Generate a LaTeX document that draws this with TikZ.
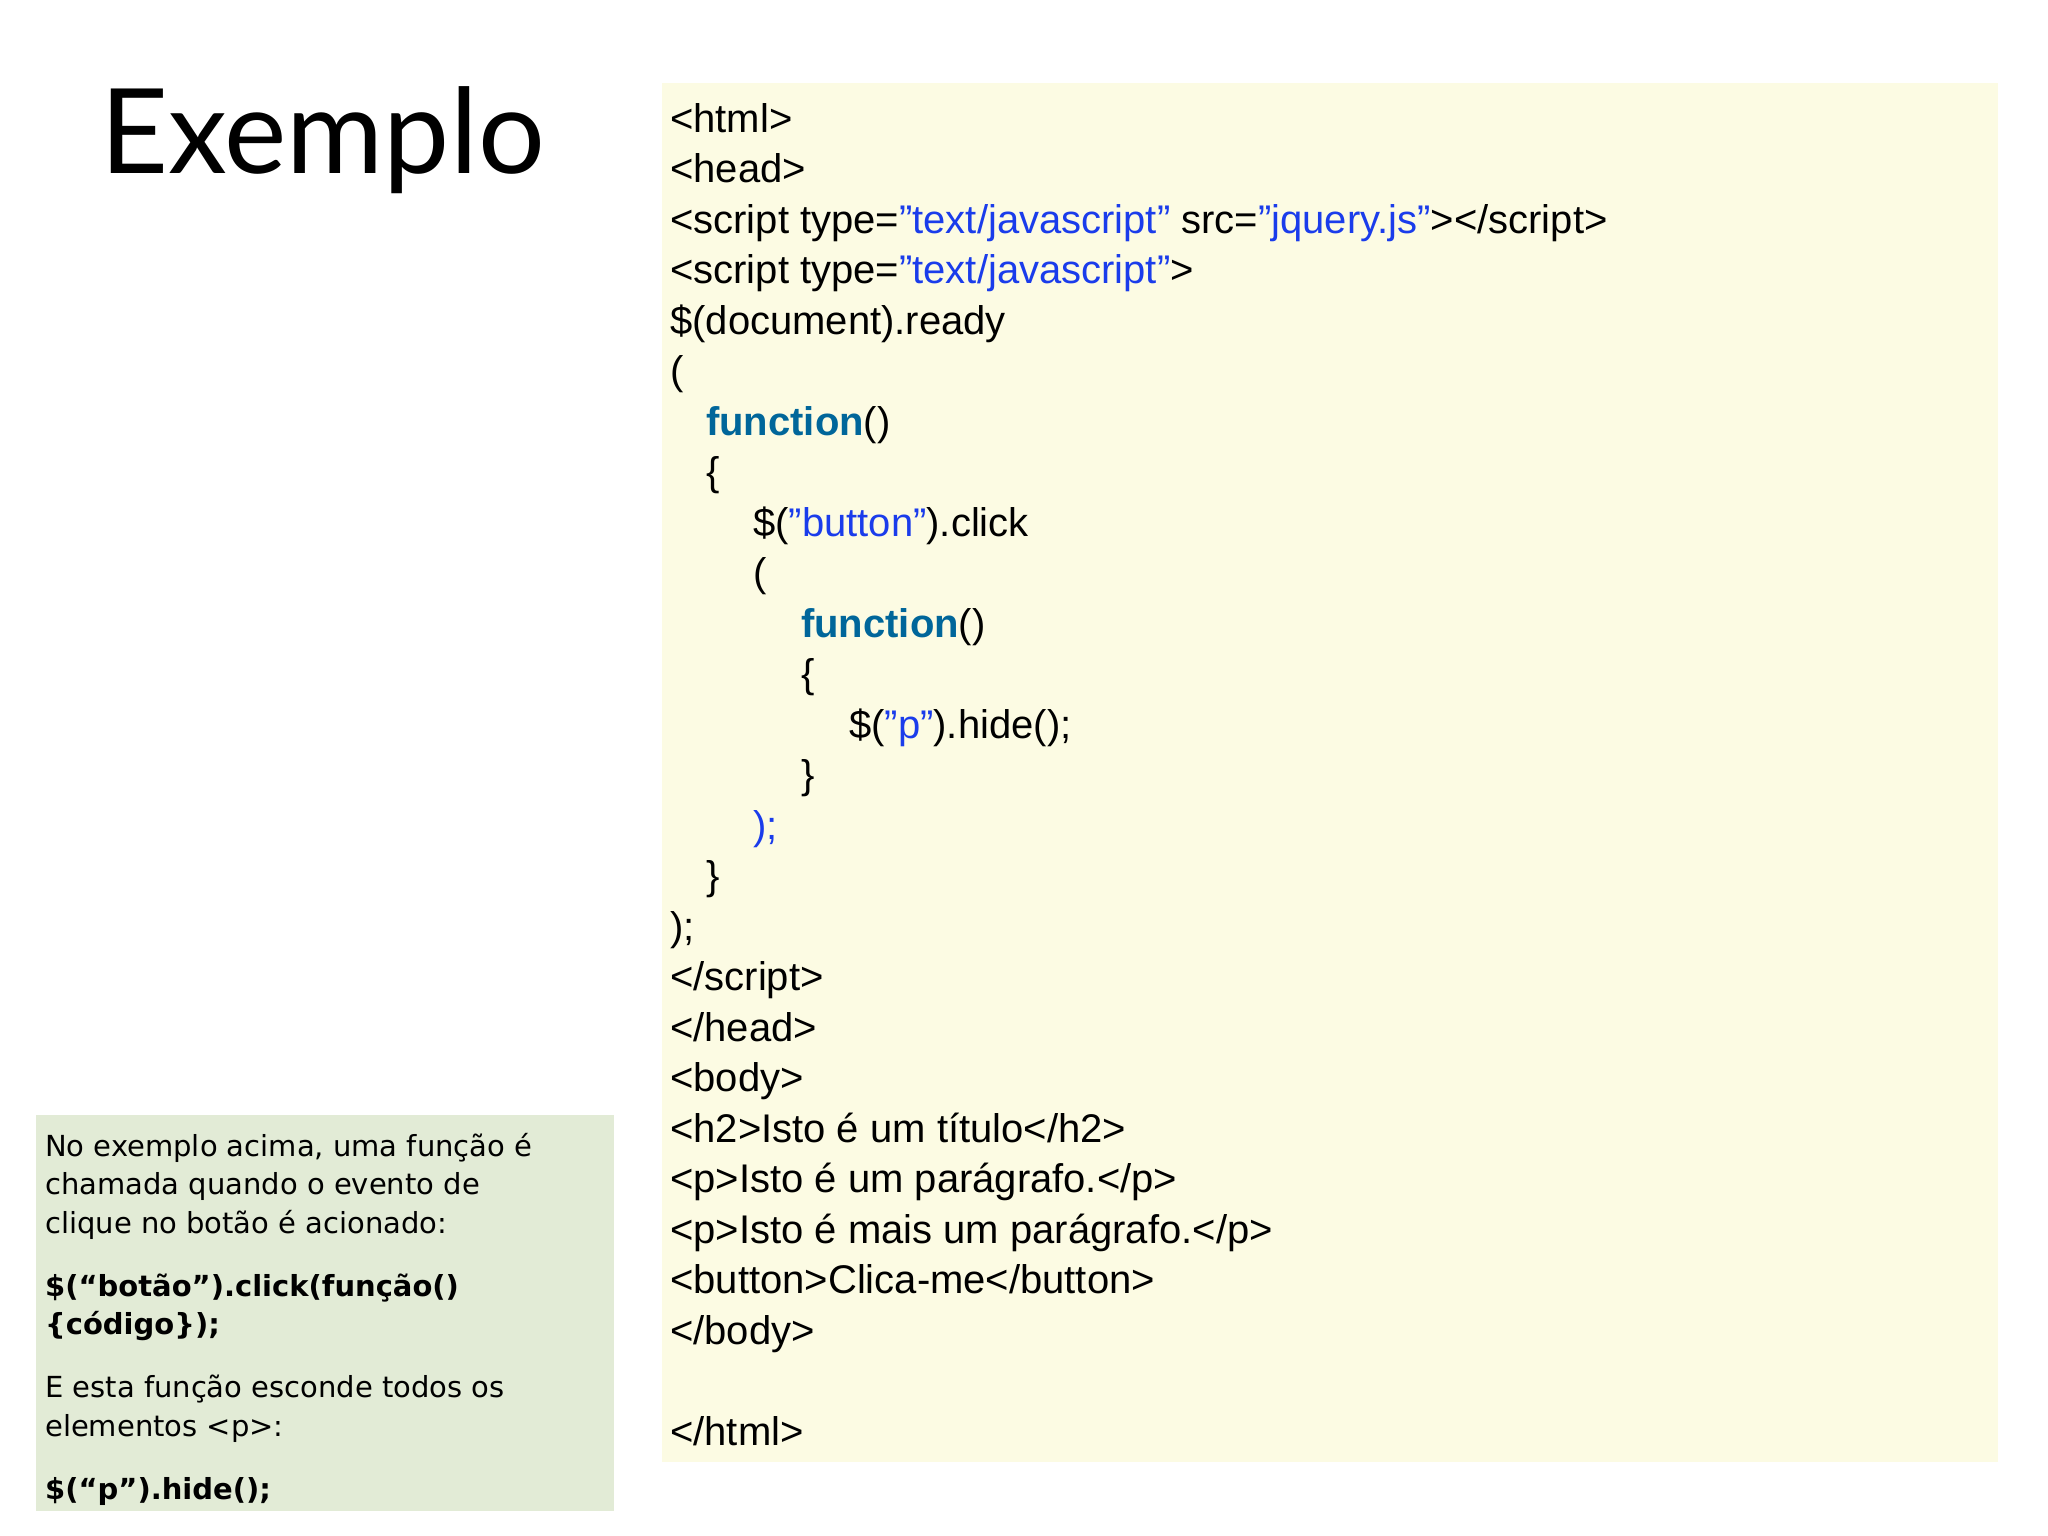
\documentclass[tikz,border=0pt]{standalone}
\usepackage{fontspec}
\setmainfont{Liberation Sans}
\newfontfamily\titlefont{Lato}
\newfontfamily\notefont{DejaVu Sans}
\definecolor{codebg}{HTML}{FCFBE3}
\definecolor{notebg}{HTML}{E2EBD6}
\definecolor{str}{HTML}{1A3CEB}
\definecolor{kw}{HTML}{00669A}
\begin{document}
\begin{tikzpicture}[x=1pt,y=-1pt,
  code/.style={anchor=base west,inner sep=0pt,font=\fontsize{40}{40}\selectfont},
  note/.style={anchor=base west,inner sep=0pt,font=\notefont\fontsize{29}{29}\selectfont}]
\useasboundingbox (0,0) rectangle (2048,1536);
\fill[white] (0,0) rectangle (2048,1536);
\fill[codebg] (662,83) rectangle (1998,1462);
\fill[notebg] (36,1115) rectangle (614,1511);
\node[anchor=base west,inner sep=0pt,font=\titlefont\fontsize{118}{118}\selectfont] (title) at (100,174) {Exemplo};
\newcommand\myline[3]{\node[code] (c#1) at (#2,132+50.5*#1) {#3};}
\newcommand\mystr[1]{\textcolor{str}{#1}}
\newcommand\mykw[1]{\textcolor{kw}{\bfseries #1}}
\myline{0}{670}{<html>}
\myline{1}{670}{<head>}
\myline{2}{670}{<script type=\mystr{"text/javascript"} src=\mystr{"jquery.js"}></script>}
\myline{3}{670}{<script type=\mystr{"text/javascript"}>}
\myline{4}{670}{\$(document).ready}
\myline{5}{670}{(}
\myline{6}{706}{\mykw{function}()}
\myline{7}{706}{\{}
\myline{8}{753}{\$(\mystr{"button"}).click}
\myline{9}{753}{(}
\myline{10}{801}{\mykw{function}()}
\myline{11}{801}{\{}
\myline{12}{849}{\$(\mystr{"p"}).hide();}
\myline{13}{801}{\}}
\myline{14}{753}{\mystr{);}}
\myline{15}{706}{\}}
\myline{16}{670}{);}
\myline{17}{670}{</script>}
\myline{18}{670}{</head>}
\myline{19}{670}{<body>}
\myline{20}{670}{<h2>Isto é um título</h2>}
\myline{21}{670}{<p>Isto é um parágrafo.</p>}
\myline{22}{670}{<p>Isto é mais um parágrafo.</p>}
\myline{23}{670}{<button>Clica-me</button>}
\myline{24}{670}{</body>}
\myline{26}{670}{</html>}
\node[note] (n1) at (45,1156) {No exemplo acima, uma função é};
\node[note] (n2) at (45,1194) {chamada quando o evento de};
\node[note] (n3) at (45,1233) {clique no botão é acionado:};
\node[note,font=\notefont\bfseries\fontsize{29}{29}\selectfont] (n4) at (45,1296) {\$(“botão”).click(função()};
\node[note,font=\notefont\bfseries\fontsize{29}{29}\selectfont] (n5) at (45,1334) {\{código\});};
\node[note] (n6) at (45,1397) {E esta função esconde todos os};
\node[note] (n7) at (45,1436) {elementos <p>:};
\node[note,font=\notefont\bfseries\fontsize{29}{29}\selectfont] (n8) at (45,1499) {\$(“p”).hide();};
\end{tikzpicture}
\end{document}
